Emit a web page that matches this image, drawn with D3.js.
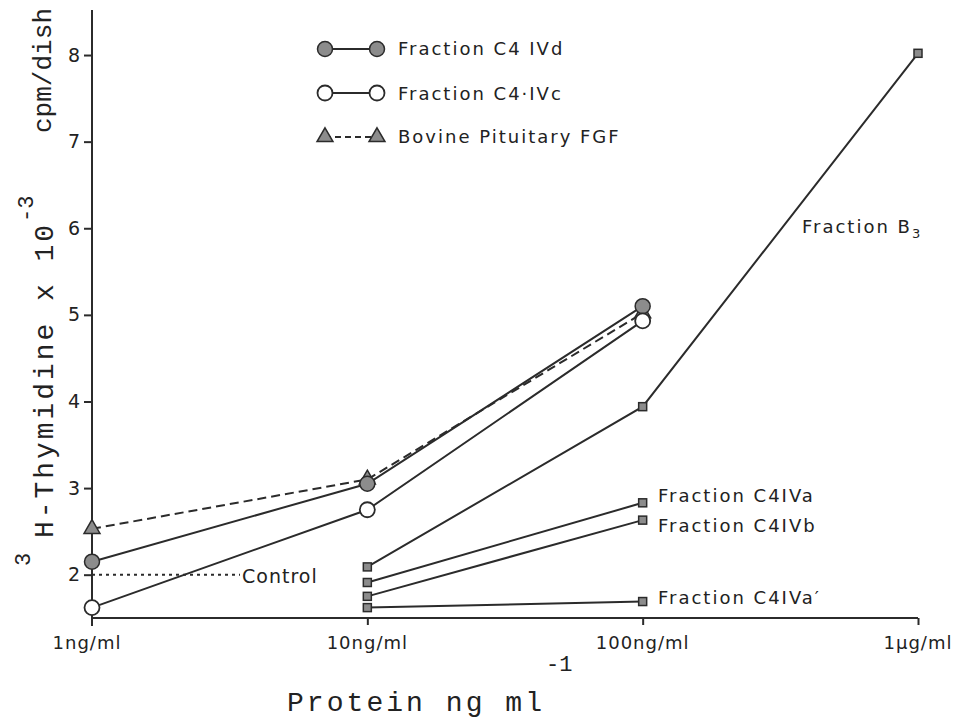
<!DOCTYPE html>
<html>
<head>
<meta charset="utf-8">
<script src="https://cdn.jsdelivr.net/npm/d3@7"></script>
<style>
  html, body { margin: 0; padding: 0; background: #fff; }
  svg { display: block; }
  .lbl { font-family: "DejaVu Sans", sans-serif; fill: #222; }
  .mono { font-family: "Liberation Mono", "DejaVu Sans Mono", monospace; fill: #222; }
</style>
</head>
<body>
<svg id="chart" width="956" height="721"></svg>
<script>
// Protein concentrations (ng/ml) on a log axis
const doses = [1, 10, 100, 1000];
const doseLabels = ["1ng/ml", "10ng/ml", "100ng/ml", "1\u00b5g/ml"];
const yTicks = [2, 3, 4, 5, 6, 7, 8];

// 3H-thymidine incorporation (cpm/dish x 10^-3); null = not measured
const c4IVd   = [2.15, 3.05, 5.10, null];
const c4IVc   = [1.62, 2.75, 4.93, null];
const fgf     = [2.53, 3.10, 5.02, null];
const b3      = [null, 2.09, 3.94, 8.02];
const c4IVa   = [null, 1.91, 2.83, null];
const c4IVb   = [null, 1.75, 2.63, null];
const c4IVa2  = [null, 1.62, 1.69, null];
const controlLevel = 2.0;

const svg = d3.select("#chart");
const ink = "#2b2b2b";
const grey = "#8c8c8c";

const x = d3.scaleLog().domain([1, 1000]).range([92, 918]);
const y = d3.scaleLinear().domain([1.5, 8.52]).range([618, 10]);

// Axes
const yAxis = d3.axisLeft(y).tickValues(yTicks).tickSize(8).tickPadding(4).tickFormat(d3.format("d"));
const gy = svg.append("g").attr("transform", `translate(${x(1)},0)`).call(yAxis);
gy.select(".domain").attr("d", `M0,${y.range()[1]}V${y.range()[0] + 8}`);

const xAxis = d3.axisBottom(x).tickValues(doses.slice(1)).tickSize(7).tickFormat("");
const gx = svg.append("g").attr("transform", `translate(0,${y(1.5)})`).call(xAxis);
gx.select(".domain").attr("d", `M${x(1)},0H${x(1000)}`);

[gx, gy].forEach(g => {
  g.selectAll(".domain, line").attr("stroke", ink).attr("stroke-width", 2);
  g.selectAll("text").attr("fill", "#222").style("font-family", "DejaVu Sans, sans-serif").style("font-size", "19px");
});

// x tick labels
svg.append("g").selectAll("text").data(doses).join("text")
  .attr("class", "lbl")
  .attr("x", (d, i) => x(d) + (i === 0 ? -5 : 0))
  .attr("y", 649)
  .attr("text-anchor", "middle")
  .style("font-size", "18px")
  .style("letter-spacing", "1px")
  .text((d, i) => doseLabels[i]);

// Control level
svg.append("line")
  .attr("x1", x(1)).attr("x2", 240)
  .attr("y1", y(controlLevel)).attr("y2", y(controlLevel))
  .attr("stroke", ink).attr("stroke-width", 2).attr("stroke-dasharray", "3,4");
svg.append("text").attr("class", "lbl").attr("x", 242).attr("y", y(controlLevel) + 8)
  .style("font-size", "19px").style("letter-spacing", "1px").text("Control");

// Series
const series = [
  { name: "c4IVd", values: c4IVd, marker: "filledCircle", dash: null },
  { name: "c4IVc", values: c4IVc, marker: "openCircle", dash: null },
  { name: "fgf", values: fgf, marker: "triangle", dash: "9,5" },
  { name: "b3", values: b3, marker: "square", dash: null },
  { name: "c4IVa", values: c4IVa, marker: "square", dash: null },
  { name: "c4IVb", values: c4IVb, marker: "square", dash: null },
  { name: "c4IVa2", values: c4IVa2, marker: "square", dash: null }
];

const line = d3.line()
  .defined(d => d.v !== null)
  .x(d => x(d.dose))
  .y(d => y(d.v));

const pts = s => s.values.map((v, i) => ({ dose: doses[i], v })).filter(d => d.v !== null);

svg.append("g").selectAll("path").data(series).join("path")
  .attr("d", s => line(pts(s)))
  .attr("fill", "none")
  .attr("stroke", ink)
  .attr("stroke-width", 2)
  .attr("stroke-dasharray", s => s.dash);

function drawMarker(g, type, cx, cy) {
  if (type === "filledCircle") {
    g.append("circle").attr("cx", cx).attr("cy", cy).attr("r", 7.5)
      .attr("fill", grey).attr("stroke", ink).attr("stroke-width", 1.5);
  } else if (type === "openCircle") {
    g.append("circle").attr("cx", cx).attr("cy", cy).attr("r", 7.5)
      .attr("fill", "#fff").attr("stroke", ink).attr("stroke-width", 1.8);
  } else if (type === "triangle") {
    g.append("path").attr("d", d3.symbol(d3.symbolTriangle, 110)())
      .attr("transform", `translate(${cx},${cy})`)
      .attr("fill", grey).attr("stroke", ink).attr("stroke-width", 1.5);
  } else {
    g.append("rect").attr("x", cx - 4).attr("y", cy - 4).attr("width", 8).attr("height", 8)
      .attr("fill", grey).attr("stroke", ink).attr("stroke-width", 1.5);
  }
}

const markers = svg.append("g");
// triangles under the circles so overlaps look right
[2, 3, 4, 5, 6, 0, 1].forEach(k => {
  const s = series[k];
  pts(s).forEach(p => drawMarker(markers, s.marker, x(p.dose), y(p.v)));
});

// Legend
const legendItems = [
  { label: "Fraction C4 IVd", marker: "filledCircle", dash: null, cy: 49, ty: 55 },
  { label: "Fraction C4\u00b7IVc", marker: "openCircle", dash: null, cy: 93, ty: 100 },
  { label: "Bovine Pituitary FGF", marker: "triangle", dash: "6,4", cy: 137, ty: 143 }
];
const lg = svg.append("g");
legendItems.forEach(it => {
  lg.append("line").attr("x1", 325).attr("x2", 377).attr("y1", it.cy).attr("y2", it.cy)
    .attr("stroke", ink).attr("stroke-width", 2).attr("stroke-dasharray", it.dash);
  drawMarker(lg, it.marker, 325, it.cy);
  drawMarker(lg, it.marker, 377, it.cy);
  lg.append("text").attr("class", "lbl").attr("x", 398).attr("y", it.ty)
    .style("font-size", "18px").style("letter-spacing", "2px").text(it.label);
});

// Series labels at the right
const sideLabels = [
  { text: "Fraction B", sub: "3", x: 802, y: 233 },
  { text: "Fraction C4IVa", x: 658, y: 502 },
  { text: "Fraction C4IVb", x: 658, y: 532 },
  { text: "Fraction C4IVa\u2032", x: 658, y: 604 }
];
sideLabels.forEach(l => {
  const t = svg.append("text").attr("class", "lbl").attr("x", l.x).attr("y", l.y)
    .style("font-size", "18px").style("letter-spacing", "2px").text(l.text);
  if (l.sub) t.append("tspan").attr("dy", 5).style("font-size", "13px").text(l.sub);
});

// Axis titles
const xt = svg.append("g");
xt.append("text").attr("class", "mono").attr("x", 287).attr("y", 711)
  .attr("textLength", 255).attr("lengthAdjust", "spacing")
  .style("font-size", "28px").text("Protein ng ml");
xt.append("text").attr("class", "mono").attr("x", 546).attr("y", 671)
  .style("font-size", "22px").text("-1");

const yt = svg.append("g").attr("transform", "translate(0,566) rotate(-90)");
yt.append("text").attr("class", "mono").attr("x", 0).attr("y", 30)
  .style("font-size", "22px").text("3");
yt.append("text").attr("class", "mono").attr("x", 28).attr("y", 53)
  .attr("textLength", 313).attr("lengthAdjust", "spacing")
  .style("font-size", "28px").text("H-Thymidine x 10");
yt.append("text").attr("class", "mono").attr("x", 344).attr("y", 33)
  .style("font-size", "22px").text("-3");
yt.append("text").attr("class", "mono").attr("x", 433).attr("y", 51)
  .attr("textLength", 125).attr("lengthAdjust", "spacing")
  .style("font-size", "26px").text("cpm/dish");
</script>
</body>
</html>
